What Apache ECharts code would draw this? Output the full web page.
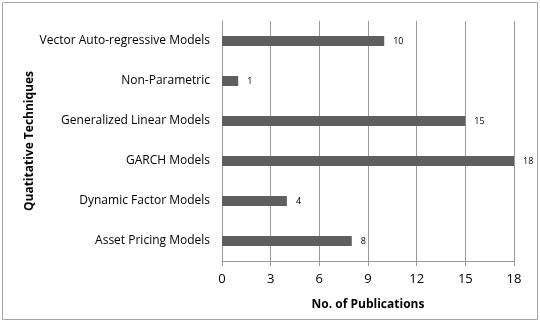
<!DOCTYPE html>
<html>
<head>
<meta charset="utf-8">
<script src="https://cdn.jsdelivr.net/npm/echarts@6/dist/echarts.min.js"></script>
<style>
html, body { margin: 0; padding: 0; background: #fff; }
#chart { width: 540px; height: 322px; }
</style>
</head>
<body>
<div id="chart"></div>
<script>
var categories = ['Asset Pricing Models', 'Dynamic Factor Models', 'GARCH Models',
    'Generalized Linear Models', 'Non-Parametric', 'Vector Auto-regressive Models'];
var publications = [8, 4, 18, 15, 1, 10];
var xTicks = [0, 3, 6, 9, 12, 15, 18];

var chart = echarts.init(document.getElementById('chart'));
var font = '"Open Sans", "Liberation Sans", sans-serif';
var option = {
    animation: false,
    textStyle: { fontFamily: font },
    graphic: [{
        type: 'rect',
        shape: { x: 2.5, y: 2.5, width: 535, height: 317 },
        style: { fill: 'none', stroke: '#a6a6a6', lineWidth: 1 }
    }],
    grid: { left: 222, right: 26, top: 21, bottom: 61 },
    xAxis: {
        type: 'value',
        min: xTicks[0],
        max: xTicks[xTicks.length - 1],
        interval: 3,
        name: 'No. of Publications',
        nameLocation: 'middle',
        nameGap: 38,
        nameMoveOverlap: false,
        nameTextStyle: { fontSize: 12, fontWeight: 'bold', color: '#000', fontFamily: font },
        axisLine: { show: true, lineStyle: { color: '#999' } },
        axisTick: { show: true, length: 5, lineStyle: { color: '#999' } },
        axisLabel: { fontSize: 13, color: '#000', margin: 12, fontFamily: font },
        splitLine: { show: true, lineStyle: { color: '#999', width: 1 } }
    },
    yAxis: {
        type: 'category',
        data: categories,
        name: 'Quatitative Techniques',
        nameLocation: 'middle',
        nameGap: 186,
        nameMoveOverlap: false,
        nameRotate: 90,
        nameTextStyle: { fontSize: 12, fontWeight: 'bold', color: '#000', fontFamily: font },
        axisLine: { show: true, lineStyle: { color: '#999' } },
        axisTick: { show: false },
        axisLabel: { fontSize: 12, color: '#000', margin: 12, fontFamily: font }
    },
    series: [{
        type: 'bar',
        data: publications,
        barWidth: 10,
        itemStyle: { color: '#5f5f5f' },
        label: {
            show: true,
            position: 'right',
            distance: 9,
            fontSize: 9,
            color: '#000',
            fontFamily: font
        }
    }]
};
chart.setOption(option);
</script>
</body>
</html>
